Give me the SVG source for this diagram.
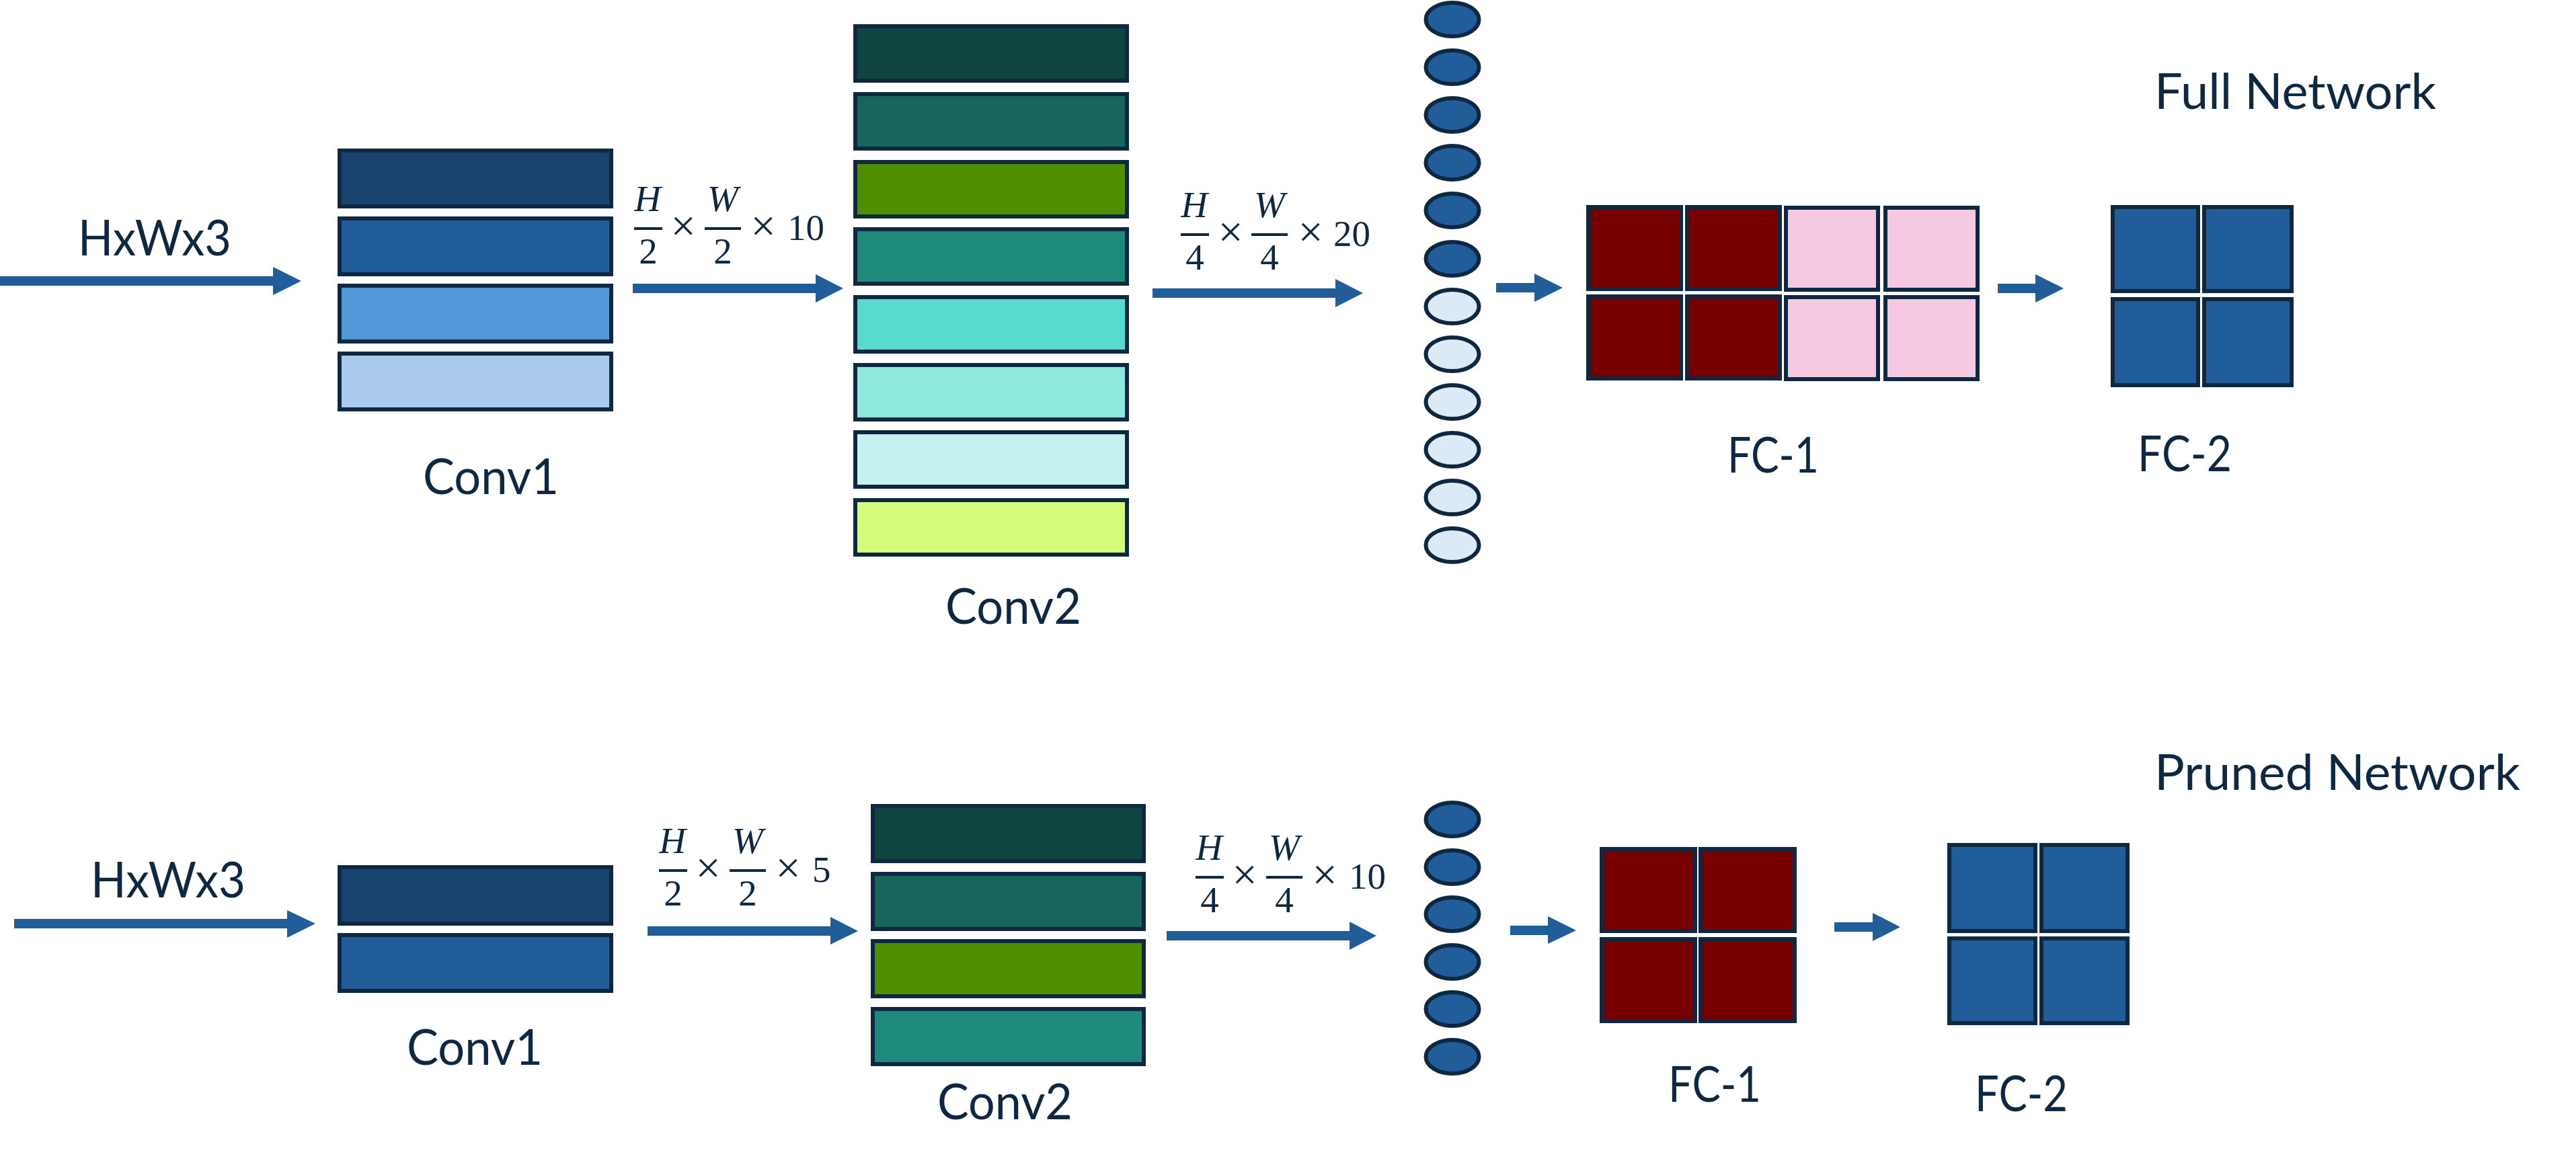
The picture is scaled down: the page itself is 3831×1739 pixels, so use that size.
<svg xmlns="http://www.w3.org/2000/svg" width="3831" height="1739" viewBox="0 0 3831 1739">
<style>
.bg{fill:#ffffff}
.cell{stroke:#0E2841;stroke-width:6}
.dot{stroke:#0E2841;stroke-width:6}
.lbl{font-family:Lato,"Noto Sans","Liberation Sans",sans-serif;font-size:73px;fill:#0E2841}
.m{font-family:"Liberation Serif","DejaVu Serif",serif;font-size:55px;fill:#0E2841}
.x{font-size:66px}
.mi{font-style:italic}
.mc{text-anchor:middle}
.bar{stroke:#0E2841;stroke-width:4}
.arr{fill:#215D99}
.c11{fill:#19426F}.c12{fill:#215D99}.c13{fill:#5297DA}.c14{fill:#ABCBEE}
.c21{fill:#0F4440}.c22{fill:#17665E}.c23{fill:#4E8F00}.c24{fill:#1E8A7C}
.c25{fill:#56DBCC}.c26{fill:#8FE8DE}.c27{fill:#C5F2EE}.c28{fill:#D4FB79}
.on{fill:#215D99}.off{fill:#DCE9F6}
.red{fill:#760000}.pink{fill:#F5C9E1}.blue{fill:#215D99}
</style>
<rect class="bg" x="0" y="0" width="3831" height="1739"/>

<!-- ===== Full network ===== -->
<text id="title-full" class="lbl" x="3204" y="162" textLength="419" lengthAdjust="spacingAndGlyphs">Full Network</text>

<g id="input-full">
<text class="lbl" x="116" y="380" textLength="228" lengthAdjust="spacingAndGlyphs">HxWx3</text>
</g>

<g id="conv1-full">
<rect class="cell c11" x="505" y="224" width="404" height="83"/>
<rect class="cell c12" x="505" y="325" width="404" height="83"/>
<rect class="cell c13" x="505" y="425" width="404" height="83"/>
<rect class="cell c14" x="505" y="526" width="404" height="83"/>
<text class="lbl" x="629" y="735" textLength="202" lengthAdjust="spacingAndGlyphs">Conv1</text>
</g>

<g id="conv2-full">
<rect class="cell c21" x="1272" y="39" width="404" height="81"/>
<rect class="cell c22" x="1272" y="140" width="404" height="81"/>
<rect class="cell c23" x="1272" y="241" width="404" height="81"/>
<rect class="cell c24" x="1272" y="341" width="404" height="81"/>
<rect class="cell c25" x="1272" y="442" width="404" height="81"/>
<rect class="cell c26" x="1272" y="543" width="404" height="81"/>
<rect class="cell c27" x="1272" y="643" width="404" height="81"/>
<rect class="cell c28" x="1272" y="744" width="404" height="81"/>
<text class="lbl" x="1406" y="928" textLength="202" lengthAdjust="spacingAndGlyphs">Conv2</text>
</g>

<g id="flatten-full">
<ellipse class="dot on" cx="2160" cy="29" rx="39.5" ry="25"/>
<ellipse class="dot on" cx="2160" cy="100" rx="39.5" ry="25"/>
<ellipse class="dot on" cx="2160" cy="171" rx="39.5" ry="25"/>
<ellipse class="dot on" cx="2160" cy="242" rx="39.5" ry="25"/>
<ellipse class="dot on" cx="2160" cy="313" rx="39.5" ry="25"/>
<ellipse class="dot on" cx="2160" cy="385" rx="39.5" ry="25"/>
<ellipse class="dot off" cx="2160" cy="456" rx="39.5" ry="25"/>
<ellipse class="dot off" cx="2160" cy="527" rx="39.5" ry="25"/>
<ellipse class="dot off" cx="2160" cy="598" rx="39.5" ry="25"/>
<ellipse class="dot off" cx="2160" cy="669" rx="39.5" ry="25"/>
<ellipse class="dot off" cx="2160" cy="740" rx="39.5" ry="25"/>
<ellipse class="dot off" cx="2160" cy="811" rx="39.5" ry="25"/>
</g>

<g id="fc1-full">
<rect class="cell red" x="2362" y="308" width="138" height="122"/>
<rect class="cell red" x="2509" y="308" width="138" height="122"/>
<rect class="cell pink" x="2656" y="309" width="137" height="122"/>
<rect class="cell pink" x="2804" y="309" width="137" height="122"/>
<rect class="cell red" x="2362" y="441" width="138" height="122"/>
<rect class="cell red" x="2509" y="441" width="138" height="122"/>
<rect class="cell pink" x="2656" y="442" width="137" height="122"/>
<rect class="cell pink" x="2804" y="442" width="137" height="122"/>
<text class="lbl" x="2569" y="703" textLength="136" lengthAdjust="spacingAndGlyphs">FC-1</text>
</g>

<g id="fc2-full">
<rect class="cell blue" x="3142" y="308" width="127" height="125"/>
<rect class="cell blue" x="3278" y="308" width="130" height="125"/>
<rect class="cell blue" x="3142" y="445" width="127" height="128"/>
<rect class="cell blue" x="3278" y="445" width="130" height="128"/>
<text class="lbl" x="3179" y="701" textLength="140" lengthAdjust="spacingAndGlyphs">FC-2</text>
</g>

<!-- ===== Pruned network ===== -->
<text id="title-pruned" class="lbl" x="3204" y="1175" textLength="544" lengthAdjust="spacingAndGlyphs">Pruned Network</text>

<g id="input-pruned">
<text class="lbl" x="135" y="1335" textLength="230" lengthAdjust="spacingAndGlyphs">HxWx3</text>
</g>

<g id="conv1-pruned">
<rect class="cell c11" x="505" y="1290" width="404" height="84"/>
<rect class="cell c12" x="505" y="1391" width="404" height="83"/>
<text class="lbl" x="605" y="1584" textLength="202" lengthAdjust="spacingAndGlyphs">Conv1</text>
</g>

<g id="conv2-pruned">
<rect class="cell c21" x="1298" y="1199" width="403" height="82"/>
<rect class="cell c22" x="1298" y="1300" width="403" height="82"/>
<rect class="cell c23" x="1298" y="1400" width="403" height="82"/>
<rect class="cell c24" x="1298" y="1501" width="403" height="82"/>
<text class="lbl" x="1394" y="1665" textLength="201" lengthAdjust="spacingAndGlyphs">Conv2</text>
</g>

<g id="flatten-pruned">
<ellipse class="dot on" cx="2160" cy="1219" rx="39.5" ry="25"/>
<ellipse class="dot on" cx="2160" cy="1290" rx="39.5" ry="25"/>
<ellipse class="dot on" cx="2160" cy="1360" rx="39.5" ry="25"/>
<ellipse class="dot on" cx="2160" cy="1431" rx="39.5" ry="25"/>
<ellipse class="dot on" cx="2160" cy="1501" rx="39.5" ry="25"/>
<ellipse class="dot on" cx="2160" cy="1572" rx="39.5" ry="25"/>
</g>

<g id="fc1-pruned">
<rect class="cell red" x="2382" y="1263" width="139" height="122"/>
<rect class="cell red" x="2529" y="1263" width="140" height="122"/>
<rect class="cell red" x="2382" y="1397" width="139" height="122"/>
<rect class="cell red" x="2529" y="1397" width="140" height="122"/>
<text class="lbl" x="2481" y="1639" textLength="138" lengthAdjust="spacingAndGlyphs">FC-1</text>
</g>

<g id="fc2-pruned">
<rect class="cell blue" x="2899" y="1257" width="128" height="128"/>
<rect class="cell blue" x="3036" y="1257" width="128" height="128"/>
<rect class="cell blue" x="2899" y="1396" width="128" height="126"/>
<rect class="cell blue" x="3036" y="1396" width="128" height="126"/>
<text class="lbl" x="2937" y="1653" textLength="138" lengthAdjust="spacingAndGlyphs">FC-2</text>
</g>

<!-- ===== Connectors ===== -->
<g id="connectors">
<polygon class="arr" points="0,411 406,411 406,397 448,418 406,439 406,425 0,425"/>
<polygon class="arr" points="941,422 1213,422 1213,408 1254,429 1213,450 1213,436 941,436"/>
<polygon class="arr" points="1714,429 1986,429 1986,415 2027,436 1986,457 1986,443 1714,443"/>
<polygon class="arr" points="2225,421 2282,421 2282,407 2324,428 2282,449 2282,435 2225,435"/>
<polygon class="arr" points="2971,422 3027,422 3027,408 3069,429 3027,450 3027,436 2971,436"/>

<polygon class="arr" points="21,1367 427,1367 427,1354 469,1374 427,1395 427,1381 21,1381"/>
<polygon class="arr" points="963,1378 1235,1378 1235,1364 1276,1385 1235,1405 1235,1392 963,1392"/>
<polygon class="arr" points="1735,1385 2007,1385 2007,1371 2047,1392 2007,1413 2007,1399 1735,1399"/>
<polygon class="arr" points="2246,1377 2302,1377 2302,1363 2344,1384 2302,1404 2302,1391 2246,1391"/>
<polygon class="arr" points="2728,1372 2785,1372 2785,1358 2826,1379 2785,1400 2785,1386 2728,1386"/>
</g>

<!-- ===== Connector labels (tensor sizes) ===== -->
<g id="edge-labels">
<g id="size-full-1">
<text class="m mi mc" x="963" y="314">H</text>
<line class="bar" x1="943" y1="340" x2="985" y2="340"/>
<text class="m mc" x="964" y="392">2</text>
<text class="m x mc" x="1016" y="358">×</text>
<text class="m mi mc" x="1075" y="314">W</text>
<line class="bar" x1="1048" y1="340" x2="1102" y2="340"/>
<text class="m mc" x="1075" y="392">2</text>
<text class="m x mc" x="1135" y="358">×</text>
<text class="m" x="1171" y="357">10</text>
</g>
<g id="size-full-2">
<text class="m mi mc" x="1776" y="323">H</text>
<line class="bar" x1="1756" y1="349" x2="1798" y2="349"/>
<text class="m mc" x="1777" y="401">4</text>
<text class="m x mc" x="1830" y="367">×</text>
<text class="m mi mc" x="1888" y="323">W</text>
<line class="bar" x1="1861" y1="349" x2="1915" y2="349"/>
<text class="m mc" x="1888" y="401">4</text>
<text class="m x mc" x="1949" y="367">×</text>
<text class="m" x="1983" y="366">20</text>
</g>
<g id="size-pruned-1">
<text class="m mi mc" x="1000" y="1269">H</text>
<line class="bar" x1="980" y1="1295" x2="1022" y2="1295"/>
<text class="m mc" x="1001" y="1347">2</text>
<text class="m x mc" x="1053" y="1313">×</text>
<text class="m mi mc" x="1112" y="1269">W</text>
<line class="bar" x1="1085" y1="1295" x2="1139" y2="1295"/>
<text class="m mc" x="1112" y="1347">2</text>
<text class="m x mc" x="1172" y="1313">×</text>
<text class="m" x="1208" y="1312">5</text>
</g>
<g id="size-pruned-2">
<text class="m mi mc" x="1798" y="1279">H</text>
<line class="bar" x1="1778" y1="1305" x2="1820" y2="1305"/>
<text class="m mc" x="1799" y="1357">4</text>
<text class="m x mc" x="1851" y="1323">×</text>
<text class="m mi mc" x="1910" y="1279">W</text>
<line class="bar" x1="1883" y1="1305" x2="1937" y2="1305"/>
<text class="m mc" x="1910" y="1357">4</text>
<text class="m x mc" x="1970" y="1323">×</text>
<text class="m" x="2006" y="1322">10</text>
</g>
</g>
</svg>
